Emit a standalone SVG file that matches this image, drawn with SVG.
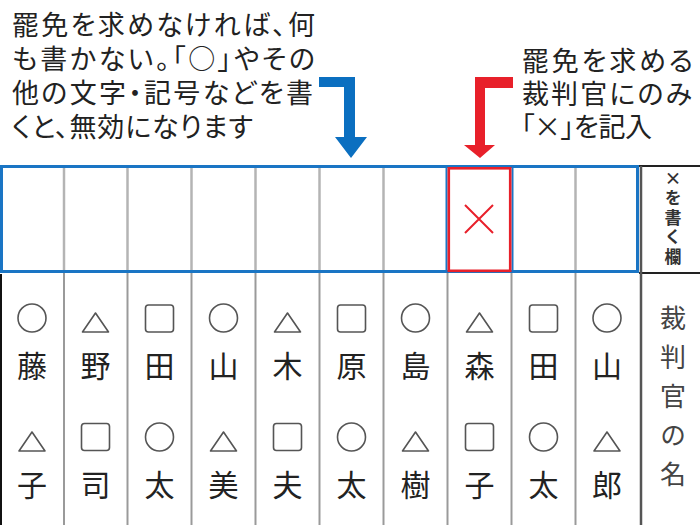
<svg xmlns="http://www.w3.org/2000/svg" width="700" height="525" viewBox="0 0 700 525">
<style>
.t{font-family:"Noto Sans CJK JP","Noto Sans",sans-serif;font-size:27px;fill:#222;font-feature-settings:"palt";}
.nm{font-family:"Noto Sans CJK JP","Noto Sans",sans-serif;font-size:30px;fill:#222;text-anchor:middle;}
.lab{font-family:"Noto Sans CJK JP","Noto Sans",sans-serif;font-size:26px;fill:#444;writing-mode:vertical-rl;text-orientation:upright;letter-spacing:13px;}
.sm{font-family:"Noto Sans CJK JP","Noto Sans",sans-serif;font-size:17px;font-weight:700;fill:#333;writing-mode:vertical-rl;text-orientation:upright;letter-spacing:2.5px;}
.sym{fill:none;stroke:#555;stroke-width:1.6;}
.g1{stroke:#b4b4b4;stroke-width:2.5;}
.g2{stroke:#9a9a9a;stroke-width:2;}
</style>
<defs>
<circle id="ci" r="14" class="sym"/>
<path id="tr" d="M-13,7 L13,7 L0,-12 Z" class="sym" stroke-linejoin="round"/>
<rect id="sq" x="-14" y="-13.5" width="28" height="27" rx="3" class="sym"/>
</defs>
<rect width="700" height="525" fill="#fff"/>

<g id="note-left">
<text class="t" x="12" y="35" textLength="303" lengthAdjust="spacing">罷免を求めなければ、何</text>
<text class="t" x="12" y="69" textLength="303" lengthAdjust="spacing">も書かない。「○」やその</text>
<text class="t" x="12" y="103" textLength="301" lengthAdjust="spacing">他の文字・記号などを書</text>
<text class="t" x="12" y="137" textLength="241" lengthAdjust="spacing">くと、無効になります</text>
</g>
<g id="note-right">
<text class="t" x="522" y="71" textLength="171" lengthAdjust="spacing">罷免を求める</text>
<text class="t" x="522" y="104" textLength="170" lengthAdjust="spacing">裁判官にのみ</text>
<text class="t" x="521" y="137" textLength="131" lengthAdjust="spacing">「×」を記入</text>
</g>

<g id="connectors">
<path id="arrow-blue" d="M319,77 L355,77 L355,137 L367,137 L351,158 L335,137 L344,137 L344,87 L319,87 Z" fill="#0b6fc0"/>
<path id="arrow-red" d="M475,77 L513,77 L513,88 L485,88 L485,145 L495,145 L480,158 L464,145 L475,145 Z" fill="#e8202a"/>
</g>

<g id="ballot-top">
<g>
<line class="g1" x1="64" y1="168" x2="64" y2="270"/>
<line class="g1" x1="127.5" y1="168" x2="127.5" y2="270"/>
<line class="g1" x1="191.5" y1="168" x2="191.5" y2="270"/>
<line class="g1" x1="255.5" y1="168" x2="255.5" y2="270"/>
<line class="g1" x1="319.5" y1="168" x2="319.5" y2="270"/>
<line class="g1" x1="383.5" y1="168" x2="383.5" y2="270"/>
<line class="g1" x1="575.5" y1="168" x2="575.5" y2="270"/>
</g>
<rect x="1.5" y="166.5" width="636" height="105" fill="none" stroke="#1a75c4" stroke-width="3"/>
<line x1="446.5" y1="166.5" x2="446.5" y2="271.5" stroke="#1a75c4" stroke-width="2"/>
<line x1="512.5" y1="166.5" x2="512.5" y2="271.5" stroke="#1a75c4" stroke-width="2"/>
</g>

<g id="marked-cell">
<rect x="448.8" y="168.3" width="61.4" height="102.5" fill="none" stroke="#e8202a" stroke-width="2.6"/>
<path d="M465,205 L493,233 M493,205 L465,233" stroke="#e8202a" stroke-width="2" fill="none"/>
</g>

<g id="ballot-bottom">
<line x1="1" y1="274" x2="1" y2="525" stroke="#111" stroke-width="2"/>
<line class="g2" x1="64" y1="273" x2="64" y2="525"/>
<line class="g2" x1="127.5" y1="273" x2="127.5" y2="525"/>
<line class="g2" x1="191.5" y1="273" x2="191.5" y2="525"/>
<line class="g2" x1="255.5" y1="273" x2="255.5" y2="525"/>
<line class="g2" x1="319.5" y1="273" x2="319.5" y2="525"/>
<line class="g2" x1="383.5" y1="273" x2="383.5" y2="525"/>
<line class="g2" x1="447.5" y1="273" x2="447.5" y2="525"/>
<line class="g2" x1="511.5" y1="273" x2="511.5" y2="525"/>
<line class="g2" x1="575.5" y1="273" x2="575.5" y2="525"/>
</g>

<g id="label-column">
<line x1="639" y1="166" x2="700" y2="166" stroke="#222" stroke-width="2"/>
<line x1="639" y1="273" x2="700" y2="273" stroke="#222" stroke-width="2"/>
<line x1="641" y1="166" x2="641" y2="525" stroke="#555" stroke-width="2.5"/>
<text class="sm" x="673" y="170">×を書く欄</text>
<text class="lab" x="673" y="305">裁判官の名</text>
</g>

<g id="c1"><use href="#ci" x="32" y="318"/><text class="nm" x="32" y="377">藤</text><use href="#tr" x="32" y="444"/><text class="nm" x="32" y="496">子</text></g>
<g id="c2"><use href="#tr" x="95.5" y="325"/><text class="nm" x="95.5" y="377">野</text><use href="#sq" x="95.5" y="437"/><text class="nm" x="95.5" y="496">司</text></g>
<g id="c3"><use href="#sq" x="159.5" y="318.5"/><text class="nm" x="159.5" y="377">田</text><use href="#ci" x="159.5" y="437"/><text class="nm" x="159.5" y="496">太</text></g>
<g id="c4"><use href="#ci" x="223.5" y="318"/><text class="nm" x="223.5" y="377">山</text><use href="#tr" x="223.5" y="444"/><text class="nm" x="223.5" y="496">美</text></g>
<g id="c5"><use href="#tr" x="287.5" y="325"/><text class="nm" x="287.5" y="377">木</text><use href="#sq" x="287.5" y="437"/><text class="nm" x="287.5" y="496">夫</text></g>
<g id="c6"><use href="#sq" x="351.5" y="318.5"/><text class="nm" x="351.5" y="377">原</text><use href="#ci" x="351.5" y="437"/><text class="nm" x="351.5" y="496">太</text></g>
<g id="c7"><use href="#ci" x="415.5" y="318"/><text class="nm" x="415.5" y="377">島</text><use href="#tr" x="415.5" y="444"/><text class="nm" x="415.5" y="496">樹</text></g>
<g id="c8"><use href="#tr" x="479.5" y="325"/><text class="nm" x="479.5" y="377">森</text><use href="#sq" x="479.5" y="437"/><text class="nm" x="479.5" y="496">子</text></g>
<g id="c9"><use href="#sq" x="543.5" y="318.5"/><text class="nm" x="543.5" y="377">田</text><use href="#ci" x="543.5" y="437"/><text class="nm" x="543.5" y="496">太</text></g>
<g id="c10"><use href="#ci" x="607" y="318"/><text class="nm" x="607" y="377">山</text><use href="#tr" x="607" y="444"/><text class="nm" x="607" y="496">郎</text></g>
</svg>
